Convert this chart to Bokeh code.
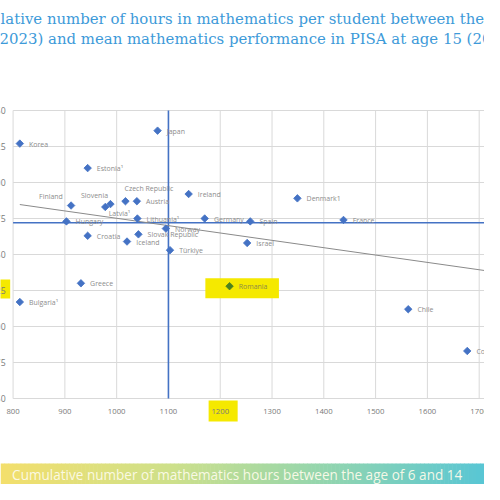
import numpy as np
from bokeh.plotting import figure
from bokeh.models import ColumnDataSource, Range1d
from bokeh.core.properties import value
from bokeh.embed import file_html
from bokeh.resources import INLINE

# ---------------- data ----------------
countries = ["Korea", "Japan", "Estonia¹", "Finland", "Slovenia", "Latvia¹",
             "Czech Republic", "Austria", "Ireland", "Denmark1", "Hungary",
             "Lithuania¹", "Germany", "Spain", "France", "Norway", "Croatia",
             "Slovak Republic", "Iceland", "Israel", "Türkiye", "Greece",
             "Romania", "Bulgaria¹", "Chile", "Colombia"]
hours = [813, 1079, 944, 912, 988, 978,
         1017, 1039, 1139, 1349, 903,
         1040, 1170, 1258, 1438, 1095, 944,
         1042, 1020, 1252, 1103, 931,
         1218, 813, 1563, 1677]
scores = [527, 536, 510, 484, 485, 483,
          487, 487, 492, 489, 473,
          475, 475, 473, 474, 468, 463,
          464, 459, 458, 453, 430,
          428, 417, 412, 383]

trend_hours = [813, 1800]
trend_scores = [484.7, 434.3]

avg_hours = 1100
avg_score = 472

x_ticks = [800, 900, 1000, 1100, 1200, 1300, 1400, 1500, 1600, 1700]
y_ticks = [350, 375, 400, 425, 450, 475, 500, 525, 550]

highlighted_country = "Romania"
highlighted_x_tick = 1200
highlighted_y_tick = 425

title_lines = ["lative number of hours in mathematics per student between the",
               "2023) and mean mathematics performance in PISA at age 15 (2022)"]
banner_text = "Cumulative number of mathematics hours between the age of 6 and 14"

# ---------------- geometry (reference pixels) ----------------
REF_W = 500.0
W = 484
H = 484
S = W / REF_W          # horizontal squeeze of the 500px-wide reference
X_ORIGIN_PX, X_ORIGIN_VAL, PX_PER_X = 13.0, x_ticks[0], 0.535
Y_ORIGIN_PX, Y_ORIGIN_VAL, PX_PER_Y = 398.0, y_ticks[0], 1.44


def xd(px):
    return X_ORIGIN_VAL + (px - X_ORIGIN_PX) / PX_PER_X


def yd(py):
    return Y_ORIGIN_VAL + (Y_ORIGIN_PX - py) / PX_PER_Y


def fs(px):
    return "%.2fpx" % (px * S)


BLUE = "#4472c4"
GRID = "#d9d9d9"
LABEL_GRAY = "#8c8c8c"
TICK_GRAY = "#7a7a7a"
YELLOW = "#f5e900"

p = figure(width=W, height=H,
           x_range=Range1d(xd(0), xd(REF_W)), y_range=Range1d(yd(H), yd(0)),
           x_axis_type=None, y_axis_type=None,
           toolbar_location=None, output_backend="svg",
           min_border=0, outline_line_color=None)
p.background_fill_color = "white"
p.border_fill_color = "white"

x_min, x_max = x_ticks[0], xd(REF_W)
y_min, y_max = y_ticks[0], y_ticks[-1]

# ---- banner (gradient) ----
stops = [(0.0, (243, 223, 108)), (0.35, (206, 224, 138)),
         (0.65, (150, 214, 172)), (1.0, (88, 198, 212))]


def grad(t):
    for (t0, c0), (t1, c1) in zip(stops[:-1], stops[1:]):
        if t <= t1:
            f = (t - t0) / (t1 - t0)
            return "#%02x%02x%02x" % tuple(int(round(a + (b - a) * f)) for a, b in zip(c0, c1))
    return "#%02x%02x%02x" % stops[-1][1]


n = 120
edges = np.linspace(0, REF_W, n + 1)
bcol = [grad((edges[i] + edges[i + 1]) / 2 / REF_W) for i in range(n)]
p.quad(left=[xd(e) for e in edges[:-1]], right=[xd(e + 0.6) for e in edges[1:]],
       bottom=yd(484.5), top=yd(463.0), fill_color=bcol, line_color=None)
p.text(x=[xd(12)], y=[yd(474)], text=[banner_text], text_font=value("Open Sans"),
       text_font_size=fs(14), text_color="#fdfbea", text_alpha=0.95,
       text_align="left", text_baseline="middle")

# ---- title ----
p.text(x=[xd(0), xd(-1)], y=[yd(18), yd(38)], text=title_lines,
       text_font=value("DejaVu Serif"), text_font_size=fs(15.4),
       text_color="#3d9ad9", text_align="left", text_baseline="middle")

# ---- grid ----
p.segment(x0=x_ticks, y0=y_min, x1=x_ticks, y1=y_max, line_color=GRID, line_width=1)
p.segment(x0=x_min, y0=y_ticks, x1=x_max, y1=y_ticks, line_color=GRID, line_width=1)

# ---- highlights ----
hi = countries.index(highlighted_country)
hx, hy = hours[hi], scores[hi]
p.quad(left=[hx - 25 / PX_PER_X], right=[hx + 51 / PX_PER_X],
       top=[hy + 8 / PX_PER_Y], bottom=[hy - 12 / PX_PER_Y],
       fill_color=YELLOW, line_color=None)
p.quad(left=[highlighted_x_tick - 12 / PX_PER_X], right=[highlighted_x_tick + 18 / PX_PER_X],
       top=[yd(400)], bottom=[yd(421)], fill_color=YELLOW, line_color=None)
p.quad(left=[xd(-2)], right=[xd(10)],
       top=[highlighted_y_tick + 11 / PX_PER_Y], bottom=[highlighted_y_tick - 8 / PX_PER_Y],
       fill_color=YELLOW, line_color=None)

# ---- tick labels ----
p.text(x=x_ticks, y=yd(411), text=[str(t) for t in x_ticks],
       text_font=value("Open Sans"), text_font_size=fs(8), text_color=TICK_GRAY,
       text_align="center", text_baseline="middle")
p.text(x=xd(5.5), y=y_ticks, text=[str(t) for t in y_ticks],
       text_font=value("Open Sans"), text_font_size=fs(9), text_color=TICK_GRAY,
       text_align="right", text_baseline="middle")

# ---- averages and trend ----
p.segment(x0=[avg_hours], y0=[y_min], x1=[avg_hours], y1=[y_max], line_color=BLUE, line_width=1.6)
p.segment(x0=[x_min], y0=[avg_score], x1=[x_max], y1=[avg_score], line_color=BLUE, line_width=1.6)
p.line(x=trend_hours, y=trend_scores, line_color="#8a8a8a", line_width=1)

# ---- points and labels ----
label_style = {
    "Finland": ("right", -8.5, -9),
    "Slovenia": ("right", -2.5, -8.5),
    "Latvia¹": ("left", 3.5, 6.5),
    "Czech Republic": ("left", -1, -12.5),
}
aligns, dxs, dys = [], [], []
for c in countries:
    a, dx, dy = label_style.get(c, ("left", 9.5, 0.5))
    aligns.append(a)
    dxs.append(dx * S)
    dys.append(dy)

mcolors = ["#4a8220" if c == highlighted_country else BLUE for c in countries]
lcolors = ["#8c8a48" if c == highlighted_country else LABEL_GRAY for c in countries]

src = ColumnDataSource(dict(x=hours, y=scores, name=countries, align=aligns,
                            dx=dxs, dy=dys, mc=mcolors, lc=lcolors))
p.scatter(x="x", y="y", source=src, marker="square", size=5.3, angle=np.pi / 4,
          fill_color="mc", line_color="mc", line_width=0.8)
p.text(x="x", y="y", text="name", source=src, x_offset="dx", y_offset="dy",
       text_align="align", text_baseline="middle", text_font=value("Open Sans"),
       text_font_size=fs(7.2), text_color="lc")

open("out.html", "w").write(file_html(p, INLINE))
